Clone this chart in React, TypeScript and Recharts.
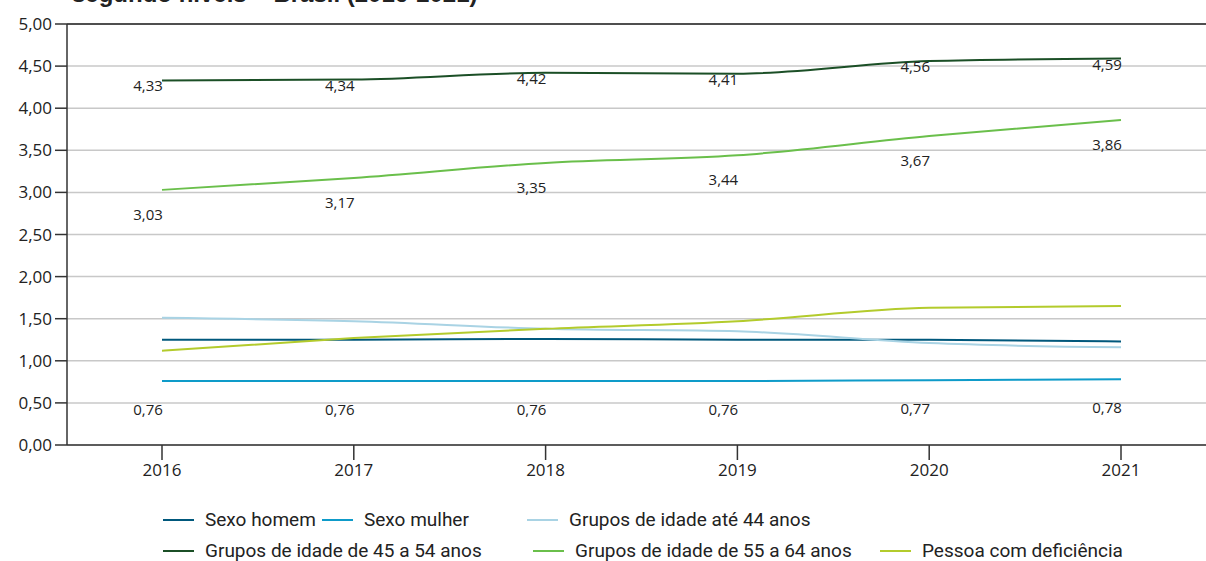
import React from "react";
import {
  CartesianGrid,
  Line,
  LineChart,
  ReferenceLine,
  XAxis,
  YAxis,
} from "recharts";

const years = ["2016", "2017", "2018", "2019", "2020", "2021"];
const sexoHomem = [1.25, 1.25, 1.26, 1.25, 1.25, 1.23];
const sexoMulher = [0.76, 0.76, 0.76, 0.76, 0.77, 0.78];
const ate44 = [1.51, 1.47, 1.38, 1.35, 1.21, 1.16];
const de45a54 = [4.33, 4.34, 4.42, 4.41, 4.56, 4.59];
const de55a64 = [3.03, 3.17, 3.35, 3.44, 3.67, 3.86];
const deficiencia = [1.12, 1.27, 1.38, 1.47, 1.63, 1.65];
const yTicks = [0, 0.5, 1, 1.5, 2, 2.5, 3, 3.5, 4, 4.5, 5];

const series = [
  { key: "homem", name: "Sexo homem", color: "#00587c", values: sexoHomem, label: null },
  { key: "mulher", name: "Sexo mulher", color: "#0e9bc9", values: sexoMulher, label: 28 },
  { key: "ate44", name: "Grupos de idade até 44 anos", color: "#a9d3e4", values: ate44, label: null },
  { key: "de45", name: "Grupos de idade de 45 a 54 anos", color: "#1b4f26", values: de45a54, label: 5 },
  { key: "de55", name: "Grupos de idade de 55 a 64 anos", color: "#6abf4b", values: de55a64, label: 24 },
  { key: "def", name: "Pessoa com deficiência", color: "#b3cb2c", values: deficiencia, label: null },
];

// legend placement (row, left px) in the same order as series
const legendSpots = [
  [0, 163],
  [0, 322],
  [0, 527],
  [1, 163],
  [1, 533],
  [1, 880],
];

const data = years.map((year, i) => {
  const row: Record<string, string | number> = { year };
  series.forEach((s) => {
    row[s.key] = s.values[i];
  });
  return row;
});

const fmt = (v: number) => v.toFixed(2).replace(".", ",");

const makeLabel = (offset: number) => (props: any) => {
  const { x, y, value } = props;
  return (
    <text
      x={x - 14}
      y={y + offset}
      textAnchor="middle"
      dominantBaseline="central"
      fontSize={15}
      fill="#222"
    >
      {fmt(value)}
    </text>
  );
};

export default function App() {
  return (
    <div
      style={{
        position: "relative",
        width: 1206,
        height: 561,
        overflow: "hidden",
        fontFamily: "'Open Sans', sans-serif",
        background: "#fff",
      }}
    >
      <style>{`body{margin:0}`}</style>
      <div
        style={{
          position: "absolute",
          left: 72,
          top: -20,
          fontFamily: "'Liberation Sans', Arial, sans-serif",
          fontWeight: 700,
          fontSize: 24,
          color: "#222",
          whiteSpace: "nowrap",
        }}
      >
        segundo níveis – Brasil (2016-2021)
      </div>
      <LineChart
        width={1206}
        height={500}
        data={data}
        margin={{ top: 24, right: 0, bottom: 0, left: 0 }}
        style={{ fontFamily: "'Open Sans', sans-serif" }}
      >
        <CartesianGrid vertical={false} stroke="#c8c8c8" strokeWidth={1.5} />
        <XAxis
          dataKey="year"
          padding={{ left: 95, right: 85 }}
          height={55}
          tickSize={15}
          tickMargin={4}
          stroke="#333"
          strokeWidth={1.5}
          tick={{ fill: "#222", fontSize: 17 }}
        />
        <YAxis
          domain={[0, 5]}
          ticks={yTicks}
          width={67}
          tickSize={12}
          tickMargin={3}
          stroke="#333"
          strokeWidth={1.5}
          tickFormatter={fmt}
          tick={{ fill: "#222", fontSize: 17 }}
        />
        <ReferenceLine y={5} stroke="#222" strokeWidth={1.5} />
        {series.map((s) => (
          <Line
            key={s.key}
            type="monotone"
            dataKey={s.key}
            name={s.name}
            stroke={s.color}
            strokeWidth={2}
            dot={false}
            activeDot={false}
            isAnimationActive={false}
            label={s.label === null ? false : makeLabel(s.label)}
          />
        ))}
      </LineChart>
      {series.map((s, i) => {
        const [row, left] = legendSpots[i];
        return (
          <div
            key={s.key}
            style={{
              position: "absolute",
              left,
              top: row === 0 ? 510 : 541,
              height: 20,
              lineHeight: "20px",
              display: "flex",
              alignItems: "center",
              whiteSpace: "nowrap",
              fontFamily: "Roboto, sans-serif",
              fontSize: 19,
              color: "#222",
            }}
          >
            <span
              style={{
                display: "inline-block",
                width: 31,
                height: 2,
                background: s.color,
                marginRight: 11,
              }}
            />
            {s.name}
          </div>
        );
      })}
    </div>
  );
}
